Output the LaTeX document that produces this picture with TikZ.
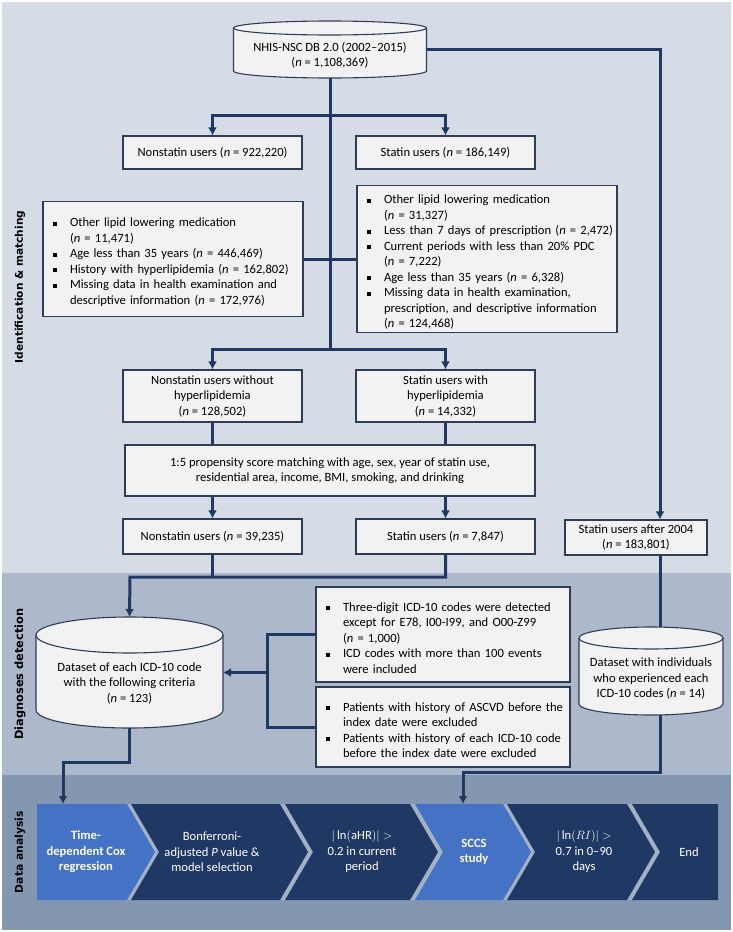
\documentclass[tikz,border=0pt]{standalone}
\usepackage{fontspec}
\setmainfont{Carlito}
\newfontfamily\bandfont{DejaVu Sans}
\usepackage{enumitem}
\usetikzlibrary{arrows.meta,positioning,calc}
\definecolor{bandtop}{HTML}{D6DCE5}
\definecolor{bandmid}{HTML}{ADB9CA}
\definecolor{bandlow}{HTML}{8497B0}
\definecolor{navy}{HTML}{203864}
\definecolor{lightblue}{HTML}{4472C4}
\definecolor{chevgap}{RGB}{163,177,198}
\definecolor{boxfill}{HTML}{F2F2F2}
\definecolor{boxline}{HTML}{2E3D57}
\newcommand{\boxfont}{\fontsize{12.6pt}{15.5pt}\selectfont}
\setlist[itemize]{nosep,leftmargin=18pt,rightmargin=-40pt,labelsep=13pt,label={\rule[1.2pt]{3.8pt}{3.8pt}}}
\newcommand{\database}[8]{
  % #1 name, #2 centre x, #3 upper rim y, #4 lower rim y, #5 x radius, #6 y radius, #7 text, #8 text y
  \draw[dbase] ({#2-#5},#3) -- ({#2-#5},#4) arc[start angle=180,end angle=0,x radius=#5,y radius=#6]
    -- ({#2+#5},#3) arc[start angle=0,end angle=-180,x radius=#5,y radius=#6] -- cycle;
  \draw[dbase,fill=none] ({#2-#5},#3) arc[start angle=180,end angle=0,x radius=#5,y radius=#6];
  \coordinate (#1-top) at (#2,{#3-#6});
  \coordinate (#1-bot) at (#2,{#4+#6});
  \coordinate (#1-left) at ({#2-#5},{(#3+#4)/2});
  \coordinate (#1-right) at ({#2+#5},{(#3+#4)/2});
  \node[dbtext] (#1) at (#2,#8) {#7};
}
\newcommand{\chevron}[3]{
  % #1 style, #2 left x, #3 right x
  \fill[#1] (#2,804) -- (#3,804) -- ({#3+28},852) -- (#3,900) -- (#2,900) -- ({#2+28},852) -- cycle;
}
\tikzstyle{flowbox}=[draw=boxline, fill=boxfill, line width=1.1pt, inner sep=0pt, align=center, font=\boxfont]
\tikzstyle{listbox}=[flowbox, inner xsep=9pt, align=left]
\tikzset{x=1pt}
\tikzset{y=-1pt}
\tikzset{flow/.style={draw=navy, line width=3pt}}
\tikzset{arr/.style={flow, -{Latex[length=8pt,width=9pt]}}}
\tikzset{dbase/.style={draw=boxline, fill=boxfill, line width=1.1pt}}
\tikzset{dbtext/.style={align=center, font=\boxfont, inner sep=0pt}}
\tikzset{bandlabel/.style={rotate=90, font=\bandfont\bfseries\fontsize{#1}{12pt}\selectfont}}
\tikzset{chevtext/.style={align=center, text=white, font=\boxfont, inner sep=0pt}}
\begin{document}
\begin{tikzpicture}
  \useasboundingbox (0,0) rectangle (733,932);
  %% Bands
  \fill[white] (0,0) rectangle (733,932);
  \fill[bandtop] (2,2) rectangle (731,573);
  \fill[bandmid] (2,573) rectangle (731,775);
  \fill[bandlow] (2,775) rectangle (731,930);
  \node[bandlabel=10.6pt] (labid) at (20,287) {Identification \& matching};
  \node[bandlabel=11.4pt] (labdx) at (20,674) {Diagnoses detection};
  \node[bandlabel=10.8pt] (labda) at (20,852) {Data analysis};

  %% Identification & matching
  \database{nhis}{330}{28}{71}{96.5}{7}{NHIS-NSC DB 2.0 (2002--2015)\\(\textit{n} = 1,108,369)}{55.5}
  \node[flowbox,minimum width=179pt,minimum height=33pt] (nonA) at (212.5,152.5) {Nonstatin users (\textit{n} = 922,220)};
  \node[flowbox,minimum width=179pt,minimum height=33pt] (statA) at (445.5,152.5) {Statin users (\textit{n} = 186,149)};
  \node[listbox,text width=242pt,minimum height=115pt] (exclL) at (173,259) {
    \begin{itemize}
      \item Other lipid lowering medication\\(\textit{n} = 11,471)
      \item Age less than 35 years (\textit{n} = 446,469)
      \item History with hyperlipidemia (\textit{n} = 162,802)
      \item Missing data in health examination and\\descriptive information (\textit{n} = 172,976)
    \end{itemize}};
  \node[listbox,text width=242pt,minimum height=147pt] (exclR) at (487,259) {
    \begin{itemize}
      \item Other lipid lowering medication\\(\textit{n} = 31,327)
      \item Less than 7 days of prescription (\textit{n} = 2,472)
      \item Current periods with less than 20\% PDC\\(\textit{n} = 7,222)
      \item Age less than 35 years (\textit{n} = 6,328)
      \item Missing data in health examination,\\prescription, and descriptive information\\(\textit{n} = 124,468)
    \end{itemize}};
  \node[flowbox,minimum width=179pt,minimum height=52pt] (nonB) at (212.5,396) {Nonstatin users without\\hyperlipidemia\\(\textit{n} = 128,502)};
  \node[flowbox,minimum width=179pt,minimum height=52pt] (statB) at (445.5,396) {Statin users with\\hyperlipidemia\\(\textit{n} = 14,332)};
  \node[flowbox,minimum width=410pt,minimum height=51pt] (psm) at (330,470.5) {1:5 propensity score matching with age, sex, year of statin use,\\residential area, income, BMI, smoking, and drinking};
  \node[flowbox,minimum width=179pt,minimum height=35pt] (nonC) at (212.5,536.5) {Nonstatin users (\textit{n} = 39,235)};
  \node[flowbox,minimum width=179pt,minimum height=35pt] (statC) at (445.5,536.5) {Statin users (\textit{n} = 7,847)};
  \node[flowbox,minimum width=142pt,minimum height=35pt] (after) at (636,537.5) {Statin users after 2004\\(\textit{n} = 183,801)};

  \coordinate (split1) at (330,115);
  \coordinate (split2) at (330,349);
  \draw[flow] (nhis-bot) -- (split2);
  \draw[arr] (split1) -| (nonA.north);
  \draw[arr] (split1) -| (statA.north);
  \draw[flow] (exclL.east) -- (exclR.west);
  \draw[arr] (split2) -| (nonB.north);
  \draw[arr] (split2) -| (statB.north);
  \draw[flow] (nonB.south) -- (nonB.south |- psm.north);
  \draw[flow] (statB.south) -- (statB.south |- psm.north);
  \draw[arr] (psm.south -| nonC.north) -- (nonC.north);
  \draw[arr] (psm.south -| statC.north) -- (statC.north);
  \draw[arr] (nhis-right) -| ([xshift=24pt]after.north);

  %% Diagnoses detection
  \database{dsL}{129.5}{635}{710}{93.5}{18}{Dataset of each ICD-10 code\\with the following criteria\\(\textit{n} = 123)}{683}
  \database{dsR}{651}{638}{704}{72}{11}{Dataset with individuals\\who experienced each\\ICD-10 codes (\textit{n} = 14)}{678.5}
  \node[listbox,text width=236pt,minimum height=95pt] (critA) at (443,634.5) {
    \begin{itemize}
      \item Three-digit ICD-10 codes were detected\\except for E78, I00-I99, and O00-Z99\\(\textit{n} = 1,000)
      \item ICD codes with more than 100 events\\were included
    \end{itemize}};
  \node[listbox,text width=236pt,minimum height=80pt] (critB) at (443,727) {
    \begin{itemize}
      \item Patients with history of ASCVD before the\\index date were excluded
      \item Patients with history of each ICD-10 code\\before the index date were excluded
    \end{itemize}};

  \coordinate (join) at (130,577);
  \coordinate (brk) at (267,672.5);
  \coordinate (dsR-in) at (660,627.3);
  \coordinate (dsR-out) at (660,714.9);
  \draw[flow] (nonC.south) -- (nonC.south |- join);
  \draw[arr] (statC.south) |- (join) -- (dsL-top);
  \draw[flow] ([xshift=24pt]after.south) -- (dsR-in);
  \draw[flow] (critA.west) -| (brk) |- (critB.west);
  \draw[arr] (brk) -- (dsL-right);

  %% Data analysis
  \fill[chevgap] (37,804) rectangle (718,900);
  \fill[lightblue] (37,804) -- (127,804) -- (155,852) -- (127,900) -- (37,900) -- cycle;
  \chevron{navy}{131}{280}
  \chevron{navy}{285}{410}
  \chevron{lightblue}{415}{503}
  \chevron{navy}{507}{627}
  \fill[navy] (632,804) -- (718,804) -- (718,900) -- (632,900) -- (660,852) -- cycle;
  \node[chevtext,font=\boxfont\bfseries] (cox) at (86,852) {Time-\\dependent Cox\\regression};
  \node[chevtext] (bonf) at (212,852) {Bonferroni-\\adjusted \textit{P} value \&\\model selection};
  \node[chevtext] (ahr) at (362,852) {$|\ln(\mathrm{aHR})| >$\\0.2 in current\\period};
  \node[chevtext,font=\boxfont\bfseries] (sccs) at (474,852) {SCCS\\study};
  \node[chevtext] (ri) at (584,852) {$|\ln(RI)| >$\\0.7 in 0--90\\days};
  \node[chevtext] (finish) at (689,852) {End};

  \coordinate (cox-in) at (63,804);
  \coordinate (sccs-in) at (463,804);
  \draw[arr] (dsL-bot) -- ++(0,34) -| (cox-in);
  \draw[arr] (dsR-out) -- (660,772) -| (sccs-in);
\end{tikzpicture}
\end{document}
